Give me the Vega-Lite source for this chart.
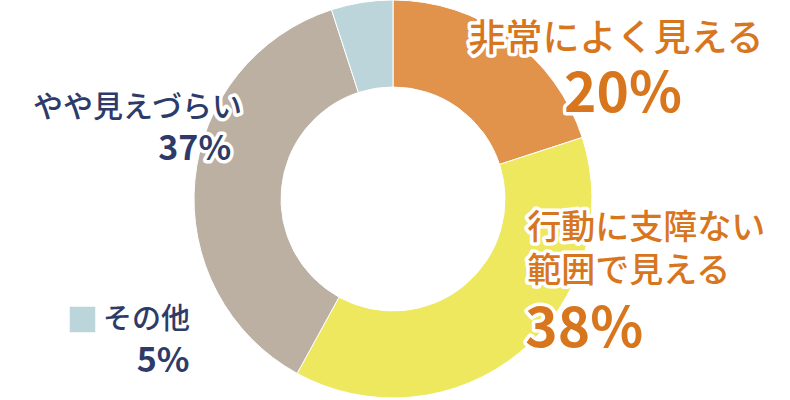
{
  "$schema": "https://vega.github.io/schema/vega-lite/v6.json",
  "width": 790,
  "height": 400,
  "autosize": {"type": "fit", "contains": "padding"},
  "padding": {"left": 0, "top": 0, "right": 4, "bottom": 2},
  "background": "#ffffff",
  "config": {"view": {"stroke": null}, "text": {"font": "Noto Sans CJK JP", "lineBreak": "\n"}},
  "data": {"values": [
    {"cat": "非常によく見える", "name": "非常によく見える", "pct": "20%", "value": 20, "rank": 1},
    {"cat": "行動に支障ない範囲で見える", "name": "行動に支障ない\n範囲で見える", "pct": "38%", "value": 38, "rank": 2},
    {"cat": "やや見えづらい", "name": "やや見えづらい", "pct": "37%", "value": 37, "rank": 3},
    {"cat": "その他", "name": "その他", "pct": "5%", "value": 5, "rank": 4}
  ]},
  "transform": [
    {"stack": "value", "groupby": [], "sort": [{"field": "rank", "order": "ascending"}], "as": ["v0", "v1"]}
  ],
  "layer": [
    {
      "mark": {"type": "arc", "outerRadius": 199, "innerRadius": 112, "stroke": "#ffffff", "strokeWidth": 1},
      "encoding": {
        "theta": {"field": "v0", "type": "quantitative", "scale": {"domain": [0, 100]}},
        "theta2": {"field": "v1"},
        "color": {
          "field": "cat", "type": "nominal",
          "scale": {
            "domain": ["非常によく見える", "行動に支障ない範囲で見える", "やや見えづらい", "その他"],
            "range": ["#E1924B", "#EEE85F", "#BCB0A3", "#BBD5DB"]
          },
          "legend": {
            "values": ["その他"], "title": null, "orient": "none", "legendX": 68, "legendY": 304,
            "symbolType": "square", "symbolSize": 650, "symbolStrokeWidth": 0, "symbolOpacity": 1,
            "labelFont": "Noto Sans CJK JP", "labelFontSize": 29, "labelFontWeight": 500,
            "labelColor": "#2E3B68", "labelOffset": 6, "padding": 0, "offset": 0, "labelLimit": 300
          }
        }
      }
    },
    {
      "transform": [{"filter": "datum.rank == 1"}],
      "mark": {"type": "text", "radius": 199, "align": "center", "baseline": "alphabetic", "dx": 223, "dy": 51, "fontSize": 37, "fontWeight": 500, "fill": "#ffffff", "stroke": "#ffffff", "strokeWidth": 7, "strokeJoin": "round"},
      "encoding": {"theta": {"field": "v0", "type": "quantitative"}, "text": {"field": "name"}}
    },
    {
      "transform": [{"filter": "datum.rank == 1"}],
      "mark": {"type": "text", "radius": 199, "align": "center", "baseline": "alphabetic", "dx": 223, "dy": 51, "fontSize": 37, "fontWeight": 500, "fill": "#D8761E"},
      "encoding": {"theta": {"field": "v0", "type": "quantitative"}, "text": {"field": "name"}}
    },
    {
      "transform": [{"filter": "datum.rank == 1"}],
      "mark": {"type": "text", "radius": 199, "align": "center", "baseline": "alphabetic", "dx": 230, "dy": 112, "fontSize": 55, "fontWeight": "bold", "fill": "#ffffff", "stroke": "#ffffff", "strokeWidth": 7, "strokeJoin": "round"},
      "encoding": {"theta": {"field": "v0", "type": "quantitative"}, "text": {"field": "pct"}}
    },
    {
      "transform": [{"filter": "datum.rank == 1"}],
      "mark": {"type": "text", "radius": 199, "align": "center", "baseline": "alphabetic", "dx": 230, "dy": 112, "fontSize": 55, "fontWeight": "bold", "fill": "#D8761E"},
      "encoding": {"theta": {"field": "v0", "type": "quantitative"}, "text": {"field": "pct"}}
    },
    {
      "transform": [{"filter": "datum.rank == 2"}],
      "mark": {"type": "text", "radius": 199, "align": "left", "baseline": "alphabetic", "dx": -55, "dy": 101, "lineHeight": 43, "fontSize": 34, "fontWeight": 500, "fill": "#ffffff", "stroke": "#ffffff", "strokeWidth": 7, "strokeJoin": "round"},
      "encoding": {"theta": {"field": "v0", "type": "quantitative"}, "text": {"field": "name"}}
    },
    {
      "transform": [{"filter": "datum.rank == 2"}],
      "mark": {"type": "text", "radius": 199, "align": "left", "baseline": "alphabetic", "dx": -55, "dy": 101, "lineHeight": 43, "fontSize": 34, "fontWeight": 500, "fill": "#D8761E"},
      "encoding": {"theta": {"field": "v0", "type": "quantitative"}, "text": {"field": "name"}}
    },
    {
      "transform": [{"filter": "datum.rank == 2"}],
      "mark": {"type": "text", "radius": 199, "align": "left", "baseline": "alphabetic", "dx": -57, "dy": 209.5, "fontSize": 55, "fontWeight": "bold", "fill": "#ffffff", "stroke": "#ffffff", "strokeWidth": 7, "strokeJoin": "round"},
      "encoding": {"theta": {"field": "v0", "type": "quantitative"}, "text": {"field": "pct"}}
    },
    {
      "transform": [{"filter": "datum.rank == 2"}],
      "mark": {"type": "text", "radius": 199, "align": "left", "baseline": "alphabetic", "dx": -57, "dy": 209.5, "fontSize": 55, "fontWeight": "bold", "fill": "#D8761E"},
      "encoding": {"theta": {"field": "v0", "type": "quantitative"}, "text": {"field": "pct"}}
    },
    {
      "transform": [{"filter": "datum.rank == 3"}],
      "mark": {"type": "text", "radius": 199, "align": "right", "baseline": "alphabetic", "dx": -55, "dy": -256, "fontSize": 30, "fontWeight": 500, "fill": "#ffffff", "stroke": "#ffffff", "strokeWidth": 7, "strokeJoin": "round"},
      "encoding": {"theta": {"field": "v0", "type": "quantitative"}, "text": {"field": "name"}}
    },
    {
      "transform": [{"filter": "datum.rank == 3"}],
      "mark": {"type": "text", "radius": 199, "align": "right", "baseline": "alphabetic", "dx": -55, "dy": -256, "fontSize": 30, "fontWeight": 500, "fill": "#2E3B68"},
      "encoding": {"theta": {"field": "v0", "type": "quantitative"}, "text": {"field": "name"}}
    },
    {
      "transform": [{"filter": "datum.rank == 3"}],
      "mark": {"type": "text", "radius": 199, "align": "right", "baseline": "alphabetic", "dx": -66, "dy": -213, "fontSize": 34, "fontWeight": "bold", "fill": "#ffffff", "stroke": "#ffffff", "strokeWidth": 7, "strokeJoin": "round"},
      "encoding": {"theta": {"field": "v0", "type": "quantitative"}, "text": {"field": "pct"}}
    },
    {
      "transform": [{"filter": "datum.rank == 3"}],
      "mark": {"type": "text", "radius": 199, "align": "right", "baseline": "alphabetic", "dx": -66, "dy": -213, "fontSize": 34, "fontWeight": "bold", "fill": "#2E3B68"},
      "encoding": {"theta": {"field": "v0", "type": "quantitative"}, "text": {"field": "pct"}}
    },
    {
      "transform": [{"filter": "datum.rank == 4"}],
      "mark": {"type": "text", "radius": 199, "align": "right", "baseline": "alphabetic", "dx": -142, "dy": 362.3, "fontSize": 34, "fontWeight": "bold", "fill": "#2E3B68"},
      "encoding": {"theta": {"field": "v0", "type": "quantitative"}, "text": {"field": "pct"}}
    }
  ]
}
